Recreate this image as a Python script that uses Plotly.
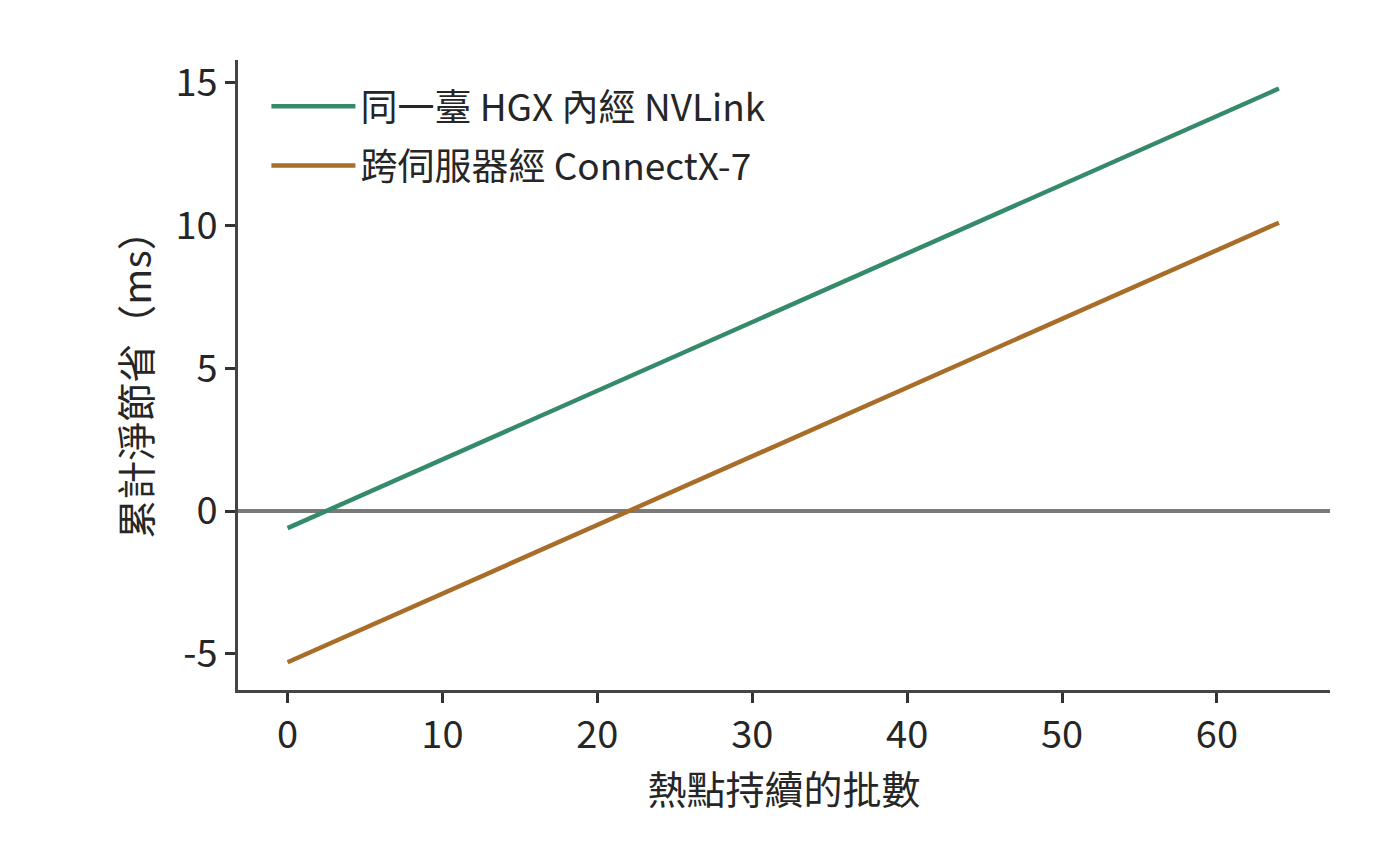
import plotly.graph_objects as go

# batches the hotspot persists
batches = [0, 64]
# cumulative net savings (ms)
nvlink_savings = [-0.6, 14.8]
connectx_savings = [-5.3, 10.1]

names = ["同一臺 HGX 內經 NVLink", "跨伺服器經 ConnectX-7"]
colors = ["#358a6a", "#a86d29"]

x_ticks = [0, 10, 20, 30, 40, 50, 60]
y_ticks = [-5, 0, 5, 10, 15]

font = "Noto Sans CJK TC"

fig = go.Figure()
fig.add_trace(go.Scatter(x=batches, y=nvlink_savings, mode="lines", name=names[0],
                         legendgroup="a", line=dict(color=colors[0], width=4.5)))
fig.add_trace(go.Scatter(x=batches, y=connectx_savings, mode="lines", name=names[1],
                         legendgroup="b", line=dict(color=colors[1], width=4.5)))
fig.add_hline(y=0, line=dict(color="#7a7a7a", width=4), layer="below")

# page body has an 8px margin, so shift the plot area up/left by that much
fig.update_layout(
    width=1400, height=864,
    paper_bgcolor="white", plot_bgcolor="white",
    margin=dict(l=230, r=78, t=52, b=182),
    font=dict(family=font, size=38, color="#262626"),
    showlegend=True,
    legend=dict(x=0.026, y=0.975, xanchor="left", yanchor="top",
                bgcolor="rgba(0,0,0,0)", font=dict(size=37, color="#262626"),
                itemwidth=84, tracegroupgap=8),
)
fig.update_xaxes(
    range=[-3.2, 67.3], tickvals=x_ticks, ticktext=[str(v) for v in x_ticks],
    showline=True, linecolor="#444444", linewidth=2.5, mirror=False,
    ticks="outside", ticklen=10, tickwidth=2.5, tickcolor="#333333",
    showgrid=False, zeroline=False, tickfont=dict(size=38),
    title=dict(text="熱點持續的批數", font=dict(size=39), standoff=14),
)
fig.update_yaxes(
    range=[-6.27, 15.8], tickvals=y_ticks, ticktext=[str(v) for v in y_ticks],
    showline=True, linecolor="#444444", linewidth=2.5, mirror=False,
    ticks="outside", ticklen=10, tickwidth=2.5, tickcolor="#333333",
    showgrid=False, zeroline=False, tickfont=dict(size=38),
    title=dict(text="累計淨節省（ms）", font=dict(size=39), standoff=12),
)

fig.write_html("out.html")
